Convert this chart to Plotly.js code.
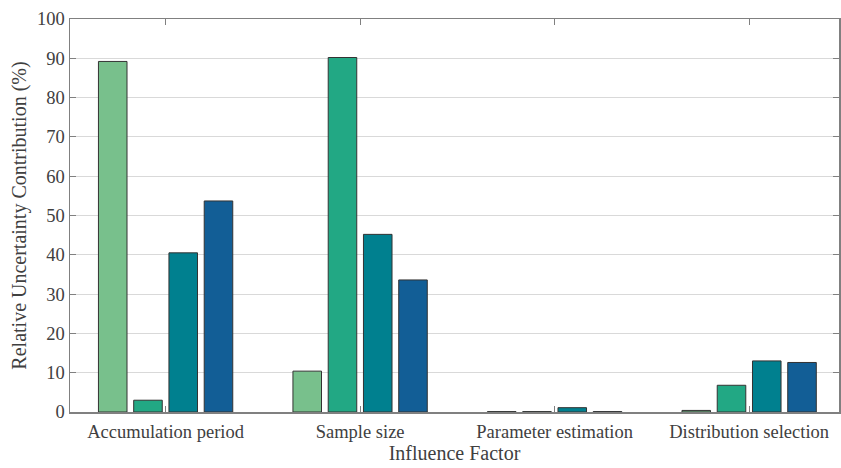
<!DOCTYPE html>
<html>
<head>
<meta charset="utf-8">
<script src="https://cdn.plot.ly/plotly-3.0.1.min.js"></script>
<style>html,body{margin:0;padding:0;background:#fff;}#chart{width:841px;height:468px;}</style>
</head>
<body>
<div id="chart"></div>
<script>
var categories = ["Accumulation period", "Sample size", "Parameter estimation", "Distribution selection"];
var series1 = [89.2, 10.4, 0.1, 0.4];
var series2 = [3.0, 90.2, 0.1, 6.8];
var series3 = [40.5, 45.2, 1.1, 13.0];
var series4 = [53.7, 33.6, 0.1, 12.6];
var yTicks = [0, 10, 20, 30, 40, 50, 60, 70, 80, 90, 100];

var colors = ["#78c08c", "#22a884", "#00808f", "#125e96"];
var allSeries = [series1, series2, series3, series4];
var names = ["Series 1", "Series 2", "Series 3", "Series 4"];

var traces = allSeries.map(function (s, i) {
  return {
    type: "bar",
    x: categories,
    y: s,
    name: names[i],
    marker: { color: colors[i], line: { color: "#333333", width: 1 } },
    hoverinfo: "y"
  };
});

var fontFam = "'Liberation Serif', 'Times New Roman', serif";
var layout = {
  width: 841,
  height: 468,
  margin: { l: 70, r: 1.5, t: 19, b: 56 },
  paper_bgcolor: "#ffffff",
  plot_bgcolor: "#ffffff",
  showlegend: false,
  barmode: "group",
  bargap: 0.275,
  bargroupgap: 0.19,
  font: { family: fontFam, color: "#404040", size: 18 },
  xaxis: {
    title: { text: "Influence Factor", font: { family: fontFam, size: 20, color: "#404040" }, standoff: 2 },
    range: [-0.4915, 3.462],
    showline: true, linecolor: "#808080", linewidth: 1.5, mirror: "ticks",
    ticks: "inside", ticklen: 6, tickcolor: "#808080", tickwidth: 1,
    ticklabelstandoff: 2,
    showgrid: false, zeroline: false,
    tickfont: { family: fontFam, size: 18.5, color: "#404040" }
  },
  yaxis: {
    title: { text: "Relative Uncertainty Contribution (%)", font: { family: fontFam, size: 20, color: "#404040" }, standoff: 5 },
    range: [0, 100],
    tickvals: yTicks,
    ticktext: yTicks.map(String),
    showline: true, linecolor: "#808080", linewidth: 1.5, mirror: "ticks",
    ticks: "inside", ticklen: 6, tickcolor: "#808080", tickwidth: 1,
    showgrid: true, gridcolor: "#d9d9d9", gridwidth: 1,
    zeroline: false,
    tickfont: { family: fontFam, size: 18.5, color: "#404040" }
  }
};

Plotly.newPlot("chart", traces, layout, { displayModeBar: false, staticPlot: true });
</script>
</body>
</html>
